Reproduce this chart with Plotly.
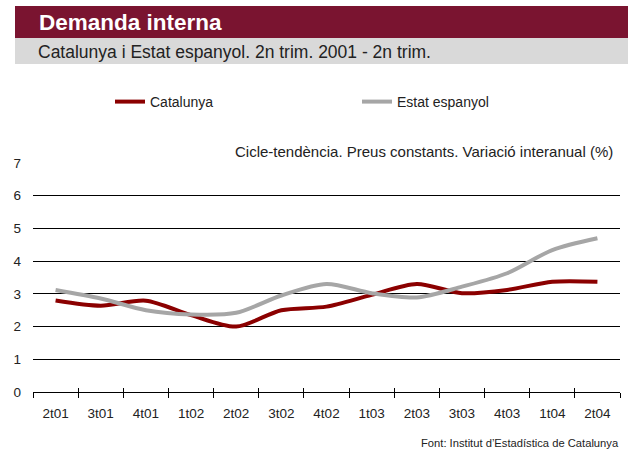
import plotly.graph_objects as go

categories = ["2t01", "3t01", "4t01", "1t02", "2t02", "3t02", "4t02",
              "1t03", "2t03", "3t03", "4t03", "1t04", "2t04"]
catalunya = [2.80, 2.64, 2.79, 2.35, 2.00, 2.50, 2.61, 2.97, 3.30, 3.02, 3.12, 3.37, 3.37]
estat = [3.12, 2.86, 2.50, 2.37, 2.42, 2.95, 3.30, 3.02, 2.89, 3.22, 3.63, 4.34, 4.70]
y_ticks = [0, 1, 2, 3, 4, 5, 6, 7]

W, H = 628, 452
L, R, T, B = 33, 8, 163, 60
PW, PH = W - L - R, H - T - B


def px(x):
    return (x - L) / PW


def py(y):
    return (H - B - y) / PH


FONT = "Liberation Sans, Arial, sans-serif"

fig = go.Figure()
fig.add_trace(go.Scatter(
    x=categories, y=catalunya, name="Catalunya", mode="lines",
    line=dict(color="#8B0000", width=4, shape="spline", smoothing=0.8),
))
fig.add_trace(go.Scatter(
    x=categories, y=estat, name="Estat espanyol", mode="lines",
    line=dict(color="#A6A6A6", width=4, shape="spline", smoothing=0.8),
))
# helper trace for the inner half of the crossing ticks
fig.add_trace(go.Scatter(
    x=categories, y=[None] * len(categories), xaxis="x2", showlegend=False,
    hoverinfo="skip", mode="lines",
))

fig.update_layout(
    width=W, height=H,
    margin=dict(l=L, r=R, t=T, b=B),
    paper_bgcolor="white", plot_bgcolor="white",
    font=dict(family=FONT, size=13, color="#222"),
    xaxis=dict(
        type="category", categoryarray=categories, range=[-0.5, len(categories) - 0.5],
        showgrid=False, showline=True, linecolor="#000", linewidth=1,
        ticks="outside", ticklen=5, tickcolor="#000", tickwidth=1,
        tickson="boundaries", tickfont=dict(size=13.5, color="#222"),
        ticklabelstandoff=9, zeroline=False, fixedrange=True,
    ),
    xaxis2=dict(
        type="category", categoryarray=categories, range=[-0.5, len(categories) - 0.5],
        overlaying="x", anchor="y", side="bottom",
        showgrid=False, showline=False, ticks="inside", ticklen=4,
        tickcolor="#000", tickwidth=1, tickson="boundaries",
        showticklabels=False, zeroline=False, fixedrange=True,
    ),
    yaxis=dict(
        range=[0, 7], tickvals=y_ticks, showgrid=True, gridcolor="#000", gridwidth=1,
        showline=False, zeroline=False, ticks="", tickfont=dict(size=13.5, color="#222"),
        ticklabelstandoff=11, fixedrange=True,
    ),
    legend=dict(
        orientation="h", x=px(110), y=py(102), xanchor="left", yanchor="middle",
        font=dict(size=14, color="#222"), entrywidth=202, entrywidthmode="pixels",
        bgcolor="rgba(0,0,0,0)", itemwidth=30,
    ),
    shapes=[
        dict(type="rect", xref="paper", yref="paper", x0=px(15), x1=px(628),
             y0=py(38), y1=py(6), fillcolor="#7A1430", line=dict(width=0), layer="below"),
        dict(type="rect", xref="paper", yref="paper", x0=px(15), x1=px(628),
             y0=py(64), y1=py(38), fillcolor="#D9D9D9", line=dict(width=0), layer="below"),
    ],
    annotations=[
        dict(text="<b>Demanda interna</b>", xref="paper", yref="paper",
             x=px(37), y=py(23), xanchor="left", yanchor="middle", showarrow=False,
             font=dict(family=FONT, size=22.5, color="white")),
        dict(text="Catalunya i Estat espanyol. 2n trim. 2001 - 2n trim.", xref="paper", yref="paper",
             x=px(36), y=py(52), xanchor="left", yanchor="middle", showarrow=False,
             font=dict(family=FONT, size=17.5, color="#222")),
        dict(text="Cicle-tendència. Preus constants. Variació interanual (%)", xref="paper", yref="paper",
             x=px(615), y=py(151), xanchor="right", yanchor="middle", showarrow=False,
             font=dict(family=FONT, size=15, color="#222")),
        dict(text="Font: Institut d’Estadística de Catalunya", xref="paper", yref="paper",
             x=px(621), y=py(443), xanchor="right", yanchor="middle", showarrow=False,
             font=dict(family=FONT, size=11.2, color="#222")),
    ],
)

fig.write_html("out.html", config={"displayModeBar": False},
               post_script="document.body.style.margin='0px';")
